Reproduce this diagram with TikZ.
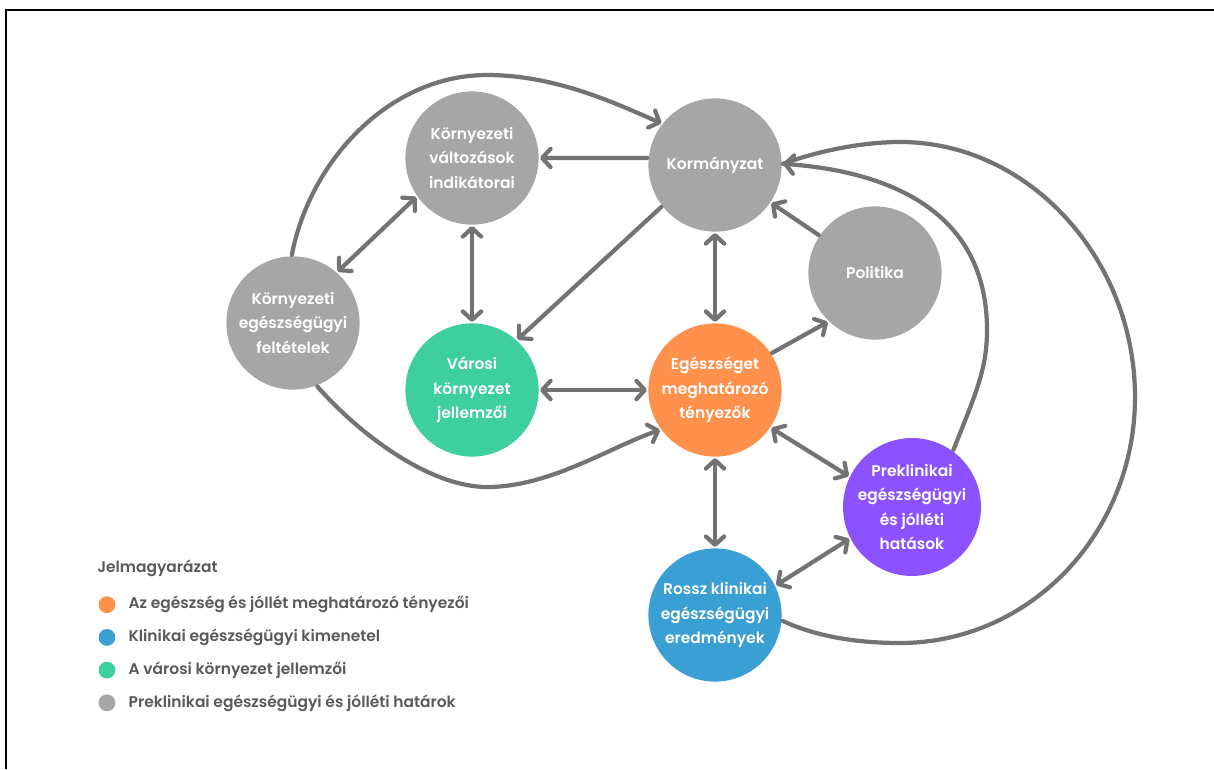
\documentclass[tikz,border=0pt]{standalone}
\usepackage{fontspec}
\setmainfont{Poppins}[BoldFont={* SemiBold}]
\usetikzlibrary{arrows.meta,positioning}
\definecolor{szurke}{HTML}{A6A6A6}
\definecolor{narancs}{HTML}{FF914D}
\definecolor{zold}{HTML}{3ECF9F}
\definecolor{kek}{HTML}{3A9FD3}
\definecolor{lila}{HTML}{8C52FF}
\definecolor{nyilszin}{HTML}{737373}
\definecolor{szoveg}{HTML}{595959}

\begin{document}
\begin{tikzpicture}[x=0.025cm,y=-0.025cm,>={Straight Barb[length=6pt,width=13pt,round]},
  csomo/.style={circle,minimum size=3.33cm,inner sep=0pt,outer sep=1pt,align=center,text=white,font=\bfseries\fontsize{11}{17.5}\selectfont},
  nyil/.style={draw=nyilszin,line width=3pt,line cap=round,line join=round},
  pont/.style={circle,minimum size=0.42cm,inner sep=0pt},
  jel/.style={text=szoveg,font=\bfseries\fontsize{11}{14}\selectfont,inner sep=0pt}]
  \useasboundingbox (0,0) rectangle (1214,769);
  \draw[line width=1.3pt] (6,769) -- (6,10) -- (1214,10);

  \node[csomo,fill=szurke] (korm) at (715,165) {Kormányzat};
  \node[csomo,fill=szurke] (ind) at (472,158) {Környezeti\\változások\\indikátorai};
  \node[csomo,fill=szurke] (pol) at (875,273) {Politika};
  \node[csomo,fill=szurke] (felt) at (293,323) {Környezeti\\egészségügyi\\feltételek};
  \node[csomo,fill=zold] (var) at (472,390) {Városi\\környezet\\jellemzői};
  \node[csomo,fill=narancs] (ege) at (715,390) {Egészséget\\meghatározó\\tényezők};
  \node[csomo,fill=lila] (prek) at (912,507) {Preklinikai\\egészségügyi\\és jólléti\\hatások};
  \node[csomo,fill=kek] (rossz) at (715,615) {Rossz klinikai\\egészségügyi\\eredmények};

  \draw[nyil,->] (korm.174) -- (ind.0);
  \draw[nyil,->] (korm.218) -- (var.48);
  \draw[nyil,<->] (korm) -- (ege);
  \draw[nyil,->] (pol) -- (korm);
  \draw[nyil,->] (ege.33) -- (pol.226);
  \draw[nyil,<->] (ind.215) -- (felt.49);
  \draw[nyil,<->] (ind) -- (var);
  \draw[nyil,<->] (var) -- (ege);
  \draw[nyil,<->] (ege.-34) -- (prek.154);
  \draw[nyil,<->] (ege) -- (rossz);
  \draw[nyil,<->] (rossz.26) -- (prek.207);

  \draw[nyil,->] (felt.91) .. controls (310,160) and (390,75) .. (487,75) .. controls (560,75) and (625,108) .. (korm.142);
  \draw[nyil,->] (felt.291) .. controls (360,435) and (430,487) .. (487,487) .. controls (550,487) and (610,447) .. (ege.216);
  \draw[nyil,->] (prek.54) .. controls (975,395) and (987,370) .. (987,330) .. controls (987,200) and (870,170) .. (korm.1);
  \draw[nyil] (rossz.-5) .. controls (815,636) and (855,643) .. (900,643) .. controls (1030,643) and (1135,533) .. (1135,397) .. controls (1135,260) and (1030,142) .. (900,142) .. controls (860,142) and (815,152) .. (korm.1);

  \node[jel,anchor=west] (cim) at (97,568) {Jelmagyarázat};
  \foreach \szin/\felirat [count=\i] in {narancs/Az egészség és jóllét meghatározó tényezői,kek/Klinikai egészségügyi kimenetel,zold/A városi környezet jellemzői,szurke/Preklinikai egészségügyi és jólléti határok}{
    \node[pont,fill=\szin] (p\i) at (107,{572+32.7*\i}) {};
    \node[jel,right=9pt of p\i] (l\i) {\felirat};
  }
\end{tikzpicture}
\end{document}
